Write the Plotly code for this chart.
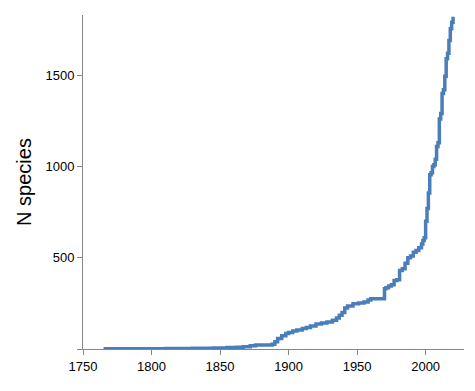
import plotly.graph_objects as go

years = [1765, 1790, 1810, 1830, 1845, 1855, 1862, 1867, 1872, 1876, 1888, 1890,
         1892, 1895, 1898, 1900, 1903, 1906, 1910, 1913, 1916, 1920, 1924, 1928,
         1932, 1935, 1937, 1939, 1941, 1943, 1947, 1951, 1955, 1958, 1960, 1970,
         1971, 1973, 1975, 1977, 1979, 1981, 1983, 1985, 1987, 1989, 1991, 1993,
         1995, 1997, 1998, 1999, 2000, 2001, 2002, 2003, 2004, 2005, 2006, 2007,
         2008, 2009, 2010, 2011, 2012, 2013, 2014, 2015, 2016, 2017, 2018, 2019, 2020]
n_species = [1, 2, 3, 4, 6, 8, 10, 13, 18, 22, 26, 40,
             58, 72, 85, 90, 98, 104, 112, 118, 126, 137, 142, 148,
             158, 170, 185, 200, 225, 235, 248, 252, 258, 268, 276, 330,
             335, 345, 352, 375, 380, 430, 440, 470, 500, 510, 530, 540,
             555, 575, 595, 610, 700, 770, 855, 955, 965, 1000, 1010, 1040,
             1110, 1130, 1260, 1290, 1400, 1420, 1495, 1590, 1620, 1690, 1755, 1790, 1820]

x_ticks = [1750, 1800, 1850, 1900, 1950, 2000]
y_ticks = [0, 500, 1000, 1500]
y_labels = ["", "500", "1000", "1500"]

fig = go.Figure()
fig.add_trace(go.Scatter(
    x=years, y=n_species, mode="lines", line_shape="hv",
    line=dict(color="#4a7ebb", width=3.5), showlegend=False,
))

axis_color = "#868686"
font_fam = "Liberation Sans, Arial, sans-serif"
fig.update_layout(
    width=459, height=375,
    margin=dict(l=75, r=3, t=7, b=34),
    paper_bgcolor="white", plot_bgcolor="white",
    font=dict(family=font_fam, color="#000000"),
    xaxis=dict(
        range=[1750, 2028], tickvals=x_ticks, showgrid=False, zeroline=False,
        showline=True, linecolor=axis_color, linewidth=1,
        ticks="outside", ticklen=5, tickcolor=axis_color,
        tickfont=dict(size=13, family=font_fam), automargin=False,
    ),
    yaxis=dict(
        range=[0, 1830], tickvals=y_ticks, ticktext=y_labels,
        showgrid=False, zeroline=False,
        showline=True, linecolor=axis_color, linewidth=1,
        ticks="outside", ticklen=5, tickcolor=axis_color,
        tickfont=dict(size=13, family=font_fam), automargin=False,
        title=dict(text="N species", font=dict(size=20, family=font_fam), standoff=8),
    ),
)

fig.write_html("out.html")
